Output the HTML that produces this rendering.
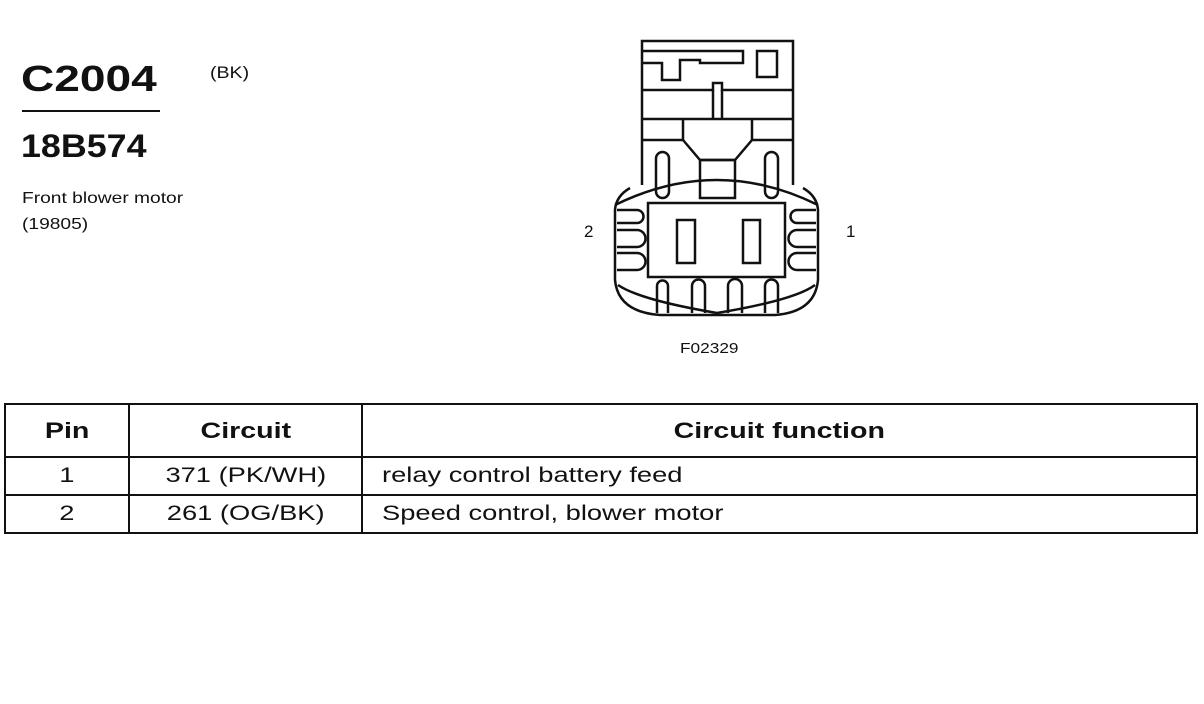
<!DOCTYPE html>
<html><head><style>
body{margin:0;background:#fff;width:1204px;height:704px;position:relative;overflow:hidden;font-family:"Liberation Sans",Arial,sans-serif;color:#111}
.t{position:absolute;white-space:nowrap;transform-origin:left top}
table{position:absolute;left:4px;top:403px;border-collapse:collapse;width:1194px}
td{border:2px solid #111;font-size:21px;height:36px;padding:0}
th{border:2px solid #111;font-size:22px;height:51px;padding:0}
.s{display:inline-block;transform:scaleX(1.3)}
.l{display:inline-block;transform:scaleX(1.3);transform-origin:left center}
</style></head><body>
<div class="t" style="left:21px;top:58px;font-size:36px;font-weight:bold;transform:scaleX(1.28)">C2004</div>
<div style="position:absolute;left:22px;top:110px;width:138px;height:2px;background:#111"></div>
<div class="t" style="left:210px;top:63px;font-size:17px;transform:scaleX(1.15)">(BK)</div>
<div class="t" style="left:21px;top:128px;font-size:32px;font-weight:bold;transform:scaleX(1.12)">18B574</div>
<div class="t" style="left:22px;top:190px;font-size:16px;transform:scaleX(1.2)">Front blower motor</div>
<div class="t" style="left:22px;top:216px;font-size:16px;transform:scaleX(1.2)">(19805)</div>
<div class="t" style="left:584px;top:222px;font-size:17px">2</div>
<div class="t" style="left:846px;top:222px;font-size:17px">1</div>
<div class="t" style="left:680px;top:340px;font-size:15px;transform:scaleX(1.15)">F02329</div>
<svg style="position:absolute;left:0;top:0" width="1204" height="704" fill="none" stroke="#111" stroke-width="2.5">
<path d="M642,185 V41 H793 V185"/>
<path d="M642,51 H743 V63 H700 V60 H680 V80 H662 V63 H642"/>
<rect x="757" y="51" width="20" height="26"/>
<path d="M642,90 H713 V83 H722 V90 H793"/>
<path d="M713,90 V119 M722,90 V119"/>
<path d="M642,119 H793"/>
<path d="M642,140 H683 V119 M793,140 H752 V119"/>
<path d="M683,140 L700,160 H735 L752,140"/>
<rect x="700" y="160" width="35" height="38"/>
<rect x="656" y="152" width="13" height="46" rx="6.5"/>
<rect x="765" y="152" width="13" height="46" rx="6.5"/>
<path d="M615,205 Q717,155 818,205"/>
<path d="M630,188 Q616,196 615,210 V280 Q618,312 660,315 H775 Q815,312 818,280 V210 Q817,196 803,188"/>
<path d="M618,285 Q640,300 717,313 Q795,300 815,285"/>
<rect x="648" y="203" width="137" height="74"/>
<rect x="677" y="220" width="18" height="43"/>
<rect x="743" y="220" width="17" height="43"/>
<path d="M617,210 H637 A6.5,6.5 0 0 1 637,223 H617 M617,230 H637 A8,8 0 0 1 637,247 H617 M617,253 H637 A8,8 0 0 1 637,270 H617"/>
<path d="M816,210 H797 A6.5,6.5 0 0 0 797,223 H816 M816,230 H797 A8,8 0 0 0 797,247 H816 M816,253 H797 A8,8 0 0 0 797,270 H816"/>
<path d="M657,313 V286 A5.5,5.5 0 0 1 668,286 V313 M692,313 V286 A6.5,6.5 0 0 1 705,286 V313 M728,313 V286 A7,7 0 0 1 742,286 V313 M765,313 V286 A6.5,6.5 0 0 1 778,286 V313"/>
</svg>
<table>
<tr><th style="width:122px"><span class="s">Pin</span></th><th style="width:231px"><span class="s">Circuit</span></th><th><span class="s">Circuit function</span></th></tr>
<tr><td style="text-align:center"><span class="s">1</span></td><td style="text-align:center"><span class="s">371 (PK/WH)</span></td><td style="padding-left:19px"><span class="l">relay control battery feed</span></td></tr>
<tr><td style="text-align:center"><span class="s">2</span></td><td style="text-align:center"><span class="s">261 (OG/BK)</span></td><td style="padding-left:19px"><span class="l">Speed control, blower motor</span></td></tr>
</table>
</body></html>
